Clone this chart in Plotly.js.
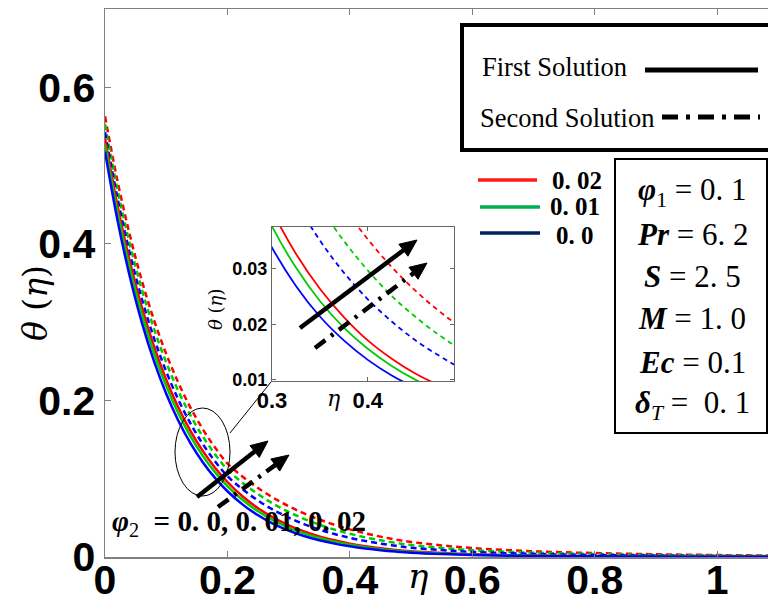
<!DOCTYPE html>
<html><head><meta charset="utf-8">
<script src="https://cdn.plot.ly/plotly-3.0.1.min.js"></script>
<style>html,body{margin:0;padding:0;background:#fff}#chart{width:768px;height:605px}</style>
</head><body><div id="chart"></div>
<script>
// ---- data ----
const eta = [0,0.02,0.04,0.06,0.08,0.1,0.12,0.14,0.16,0.18,0.2,0.225,0.25,0.275,0.3,0.325,0.35,0.375,0.4,0.425,0.45,0.475,0.5,0.55,0.6,0.7,0.8,0.9,1.0,1.1];
// First solution (solid)
const first_phi0  = [0.518,0.4318,0.3600,0.3001,0.2501,0.2085,0.1738,0.1449,0.1208,0.1007,0.0840,0.0669,0.0533,0.0424,0.0338,0.0269,0.0214,0.0171,0.0136,0.0108,0.0086,0.0069,0.0055,0.0037,0.0025,0.0014,0.0008,0.0005,0.0003,0.0002];
const first_phi01 = [0.527,0.4419,0.3706,0.3108,0.2606,0.2186,0.1833,0.1537,0.1289,0.1081,0.0906,0.0727,0.0584,0.0468,0.0376,0.0302,0.0242,0.0194,0.0156,0.0125,0.0100,0.0080,0.0065,0.0044,0.0030,0.0017,0.0010,0.0006,0.0004,0.0002];
const first_phi02 = [0.535,0.4505,0.3793,0.3194,0.2689,0.2264,0.1907,0.1605,0.1352,0.1138,0.0958,0.0773,0.0623,0.0503,0.0405,0.0327,0.0264,0.0213,0.0171,0.0138,0.0111,0.0090,0.0073,0.0050,0.0034,0.0019,0.0011,0.0007,0.0005,0.0003];
// Second solution (dashed)
const second_phi0  = [0.543,0.4600,0.3897,0.3301,0.2796,0.2369,0.2007,0.1700,0.1440,0.1220,0.1033,0.0863,0.0721,0.0602,0.0503,0.0420,0.0351,0.0293,0.0245,0.0205,0.0171,0.0143,0.0119,0.0088,0.0065,0.0039,0.0025,0.0017,0.0012,0.0008];
const second_phi01 = [0.553,0.4712,0.4015,0.3422,0.2916,0.2485,0.2117,0.1804,0.1537,0.1310,0.1117,0.0946,0.0802,0.0679,0.0576,0.0488,0.0413,0.0350,0.0297,0.0251,0.0213,0.0180,0.0153,0.0116,0.0087,0.0055,0.0037,0.0026,0.0018,0.0013];
const second_phi02 = [0.563,0.4820,0.4130,0.3535,0.3028,0.2594,0.2222,0.1902,0.1630,0.1396,0.1195,0.1026,0.0881,0.0756,0.0649,0.0557,0.0479,0.0411,0.0353,0.0303,0.0260,0.0223,0.0192,0.0148,0.0114,0.0073,0.0050,0.0035,0.0025,0.0018];

const xTicks = [0,0.2,0.4,0.6,0.8,1];
const xTickText = ['0','0.2','0.4','0.6','0.8','1'];
const yTicks = [0,0.2,0.4,0.6];
const yTickText = ['0','0.2','0.4','0.6'];
const insetXTicks = [0.3,0.4];
const insetXText = ['0.3','0.4'];
const insetYTicks = [0.01,0.02,0.03];
const insetYText = ['0.01','0.02','0.03'];
const phiLabels = ['0. 02','0. 01','0. 0'];

// ---- layout helpers (pixel -> paper) ----
const L=105, R=768, T=9, B=557;
const px = x => (x-L)/(R-L);
const py = y => (B-y)/(B-T);

const RED='#ff0000', GREEN='#00cc00', BLUE='#0000ff';
const series = [
  {y:second_phi02,c:RED,d:true},{y:second_phi01,c:GREEN,d:true},{y:second_phi0,c:BLUE,d:true},
  {y:first_phi02,c:RED,d:false},{y:first_phi01,c:GREEN,d:false},{y:first_phi0,c:BLUE,d:false}
];
const traces=[];
series.forEach(s=>{
  traces.push({x:eta,y:s.y,type:'scatter',mode:'lines',xaxis:'x',yaxis:'y',
    line:{color:s.c,width:2.5,dash:s.d?'6px,4px':'solid',shape:'spline'},hoverinfo:'skip'});
  traces.push({x:eta,y:s.y,type:'scatter',mode:'lines',xaxis:'x2',yaxis:'y2',
    line:{color:s.c,width:1.8,dash:s.d?'5px,4px':'solid',shape:'spline'},hoverinfo:'skip'});
});

const shapes=[];
function arrow(x0,y0,x1,y1,hl,hw,dash,w){
  const dx=x1-x0, dy=y1-y0, len=Math.hypot(dx,dy), ux=dx/len, uy=dy/len;
  const bx=x1-ux*hl, by=y1-uy*hl;
  shapes.push({type:'line',xref:'paper',yref:'paper',x0:px(x0),y0:py(y0),x1:px(bx+ux*2),y1:py(by+uy*2),
    line:{color:'black',width:w,dash:dash}});
  const lx=bx-uy*hw/2, ly=by+ux*hw/2, rx=bx+uy*hw/2, ry=by-ux*hw/2;
  shapes.push({type:'path',xref:'paper',yref:'paper',
    path:`M${px(x1)},${py(y1)} L${px(lx)},${py(ly)} L${px(rx)},${py(ry)} Z`,
    fillcolor:'black',line:{color:'black',width:1}});
}
arrow(197,497,268,441,17,15,'solid',4.5);
arrow(218,507,289,455,17,15,'13px,7px,3px,7px',4.5);
arrow(300,328,417,240,17,15,'solid',4.5);
arrow(315,348,427,263,17,15,'13px,7px,3px,7px',4.5);

// ellipse and connector
shapes.push({type:'circle',xref:'paper',yref:'paper',x0:px(175),x1:px(230),y0:py(496),y1:py(408),line:{color:'black',width:1}});
shapes.push({type:'line',xref:'paper',yref:'paper',x0:px(230),y0:py(433),x1:px(271),y1:py(382),line:{color:'black',width:1}});
// legend box 1
shapes.push({type:'rect',xref:'paper',yref:'paper',x0:px(462),x1:px(790),y0:py(150),y1:py(25),line:{color:'black',width:4}});
shapes.push({type:'line',xref:'paper',yref:'paper',x0:px(645),x1:px(758),y0:py(70),y1:py(70),line:{color:'black',width:5}});
shapes.push({type:'line',xref:'paper',yref:'paper',x0:px(662),x1:px(760),y0:py(117),y1:py(117),line:{color:'black',width:5,dash:'16px,8px,4px,8px'}});
// color legend lines
shapes.push({type:'line',xref:'paper',yref:'paper',x0:px(478),x1:px(537),y0:py(180),y1:py(180),line:{color:'#ff1a1a',width:3.5}});
shapes.push({type:'line',xref:'paper',yref:'paper',x0:px(480),x1:px(540),y0:py(207),y1:py(207),line:{color:'#00b050',width:3.5}});
shapes.push({type:'line',xref:'paper',yref:'paper',x0:px(480),x1:px(540),y0:py(233),y1:py(233),line:{color:'#002060',width:3.5}});
// parameter box
shapes.push({type:'rect',xref:'paper',yref:'paper',x0:px(615),x1:px(767),y0:py(433),y1:py(159),line:{color:'black',width:2}});

const SERIF='Liberation Serif, Times New Roman, serif';
const ann=[];
function txt(t,x,y,size,opt){
  ann.push(Object.assign({text:t,xref:'paper',yref:'paper',x:px(x),y:py(y),showarrow:false,
    xanchor:'center',yanchor:'middle',font:{family:SERIF,size:size,color:'black'}},opt||{}));
}
txt('<i>θ</i> (<i>η</i>)',35,303,34,{textangle:-90,font:{family:'DejaVu Serif, serif',size:33,color:'black'}});
txt('<i>η</i>',418,576,36,{font:{family:'DejaVu Serif, serif',size:34,color:'black'}});
txt('<i>θ</i> (<i>η</i>)',215,310,17,{textangle:-90,font:{family:'DejaVu Serif, serif',size:18,color:'black'}});
txt('<i>η</i>',333,398,22,{font:{family:'DejaVu Serif, serif',size:22,color:'black'}});
txt('First Solution',480,67,26.5,{xanchor:'left'});
txt('Second Solution',478,118,26.5,{xanchor:'left'});
txt('<b>'+phiLabels[0]+'</b>',577,180,25);
txt('<b>'+phiLabels[1]+'</b>',575,207,25);
txt('<b>'+phiLabels[2]+'</b>',575,236,25);
const params=['<b><i>φ</i></b><sub>1</sub> = 0. 1','<b><i>Pr</i></b> = 6. 2','<b><i>S</i></b> = 2. 5','<b><i>M</i></b> = 1. 0','<b><i>Ec</i></b> = 0.1','<b><i>δ</i></b><sub><i>T</i></sub> =  0. 1'];
const paramY=[192,234,276,318,362,405];
params.forEach((p,i)=>txt(p,692,paramY[i],31));
txt('<b><i>φ</i></b><sub>2</sub>  <b>= 0. 0, 0. 01, 0. 02</b>',110,523,29,{xanchor:'left'});

const axLine='#808080';
const layout={
  width:768,height:605,margin:{l:L,r:0,t:T,b:605-B},
  paper_bgcolor:'white',plot_bgcolor:'white',showlegend:false,
  xaxis:{range:[0,1.083],domain:[0,1],tickvals:xTicks,ticktext:xTickText,showgrid:false,zeroline:false,
    showline:true,linecolor:axLine,linewidth:1.5,mirror:'ticks',ticks:'inside',ticklen:6,tickcolor:axLine,
    ticklabelstandoff:-14,
    tickfont:{family:'Liberation Sans, Arial, sans-serif',size:41,color:'black',weight:'bold'}},
  yaxis:{range:[0,0.7],domain:[0,1],tickvals:yTicks,ticktext:yTickText,showgrid:false,zeroline:false,
    showline:true,linecolor:axLine,linewidth:1.5,ticks:'inside',ticklen:6,tickcolor:axLine,
    tickfont:{family:'Liberation Sans, Arial, sans-serif',size:41,color:'black',weight:'bold'}},
  xaxis2:{anchor:'y2',domain:[px(272),px(454)],range:[0.3,0.49],tickvals:insetXTicks,ticktext:insetXText,
    showgrid:false,zeroline:false,showline:true,linecolor:'#666',linewidth:1,mirror:'ticks',ticks:'inside',ticklen:4,tickcolor:'#666',
    tickfont:{family:'Liberation Sans, Arial, sans-serif',size:22,color:'black',weight:'bold'}},
  yaxis2:{anchor:'x2',domain:[py(381),py(227)],range:[0.0098,0.0375],tickvals:insetYTicks,ticktext:insetYText,
    showgrid:false,zeroline:false,showline:true,linecolor:'#666',linewidth:1,mirror:'ticks',ticks:'inside',ticklen:4,tickcolor:'#666',
    tickfont:{family:'Liberation Sans, Arial, sans-serif',size:18,color:'black',weight:'bold'}},
  shapes:shapes,annotations:ann
};
Plotly.newPlot('chart',traces,layout,{staticPlot:true,displayModeBar:false});
</script></body></html>
